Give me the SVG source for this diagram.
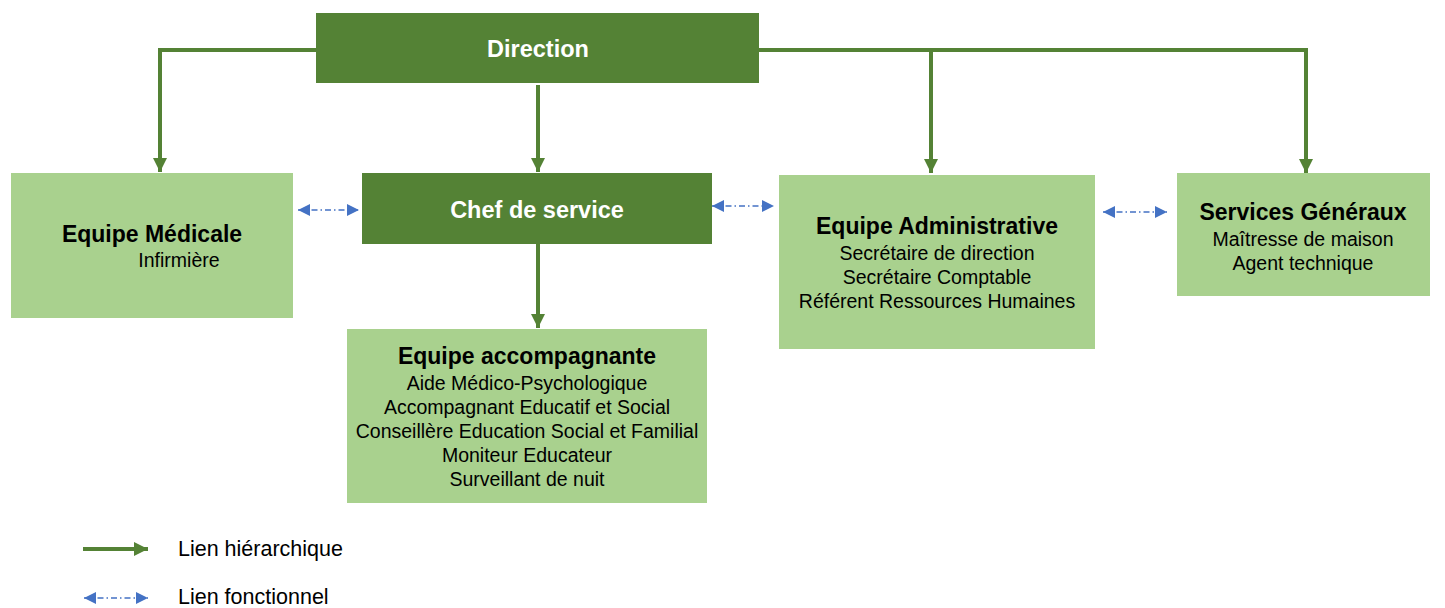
<svg xmlns="http://www.w3.org/2000/svg" width="1445" height="608" viewBox="0 0 1445 608">
<style>
.dark{fill:#548235}
.light{fill:#A9D18E}
.h{stroke:#548235;stroke-width:4;fill:none}
.f{stroke:#4472C4;stroke-width:1.5;fill:none;stroke-dasharray:6 3 1.5 3}
text{font-family:"Liberation Sans",Arial,sans-serif;text-anchor:middle}
.tw{fill:#fff;font-weight:bold;font-size:23.5px}
.tb{fill:#000;font-weight:bold;font-size:23px}
.tn{fill:#000;font-size:19.5px}
.lg{fill:#000;font-size:21.5px;text-anchor:start}
</style>
<defs>
<marker id="ag" viewBox="0 0 10 10" refX="10" refY="5" markerWidth="3.5" markerHeight="3.5" orient="auto" markerUnits="strokeWidth"><path d="M0,0 L10,5 L0,10 z" fill="#548235"/></marker>
<marker id="ab" viewBox="0 0 10 10" refX="10" refY="5" markerWidth="8" markerHeight="8" orient="auto-start-reverse" markerUnits="strokeWidth"><path d="M0,0 L10,5 L0,10 z" fill="#4472C4"/></marker>
</defs>
<g id="connectors">
<path class="h" d="M316,50 H160 V172" marker-end="url(#ag)"/>
<path class="h" d="M759,50 H1306 V173" marker-end="url(#ag)"/>
<path class="h" d="M931,50 V173" marker-end="url(#ag)"/>
<path class="h" d="M538,85 V172" marker-end="url(#ag)"/>
<path class="h" d="M538,244 V328" marker-end="url(#ag)"/>
<path class="f" d="M298,210 H359" marker-start="url(#ab)" marker-end="url(#ab)"/>
<path class="f" d="M712,206 H774" marker-start="url(#ab)" marker-end="url(#ab)"/>
<path class="f" d="M1103,212 H1167" marker-start="url(#ab)" marker-end="url(#ab)"/>
</g>
<g id="direction"><rect class="dark" x="316" y="13" width="443" height="70"/><text class="tw" x="538" y="57">Direction</text></g>
<g id="chef"><rect class="dark" x="362" y="173" width="350" height="71"/><text class="tw" x="537" y="218">Chef de service</text></g>
<g id="medicale"><rect class="light" x="11" y="173" width="282" height="145"/><text class="tb" x="152" y="242">Equipe Médicale</text><text class="tn" x="179" y="267">Infirmière</text></g>
<g id="accompagnante"><rect class="light" x="347" y="329" width="360" height="174"/><text class="tb" x="527" y="364">Equipe accompagnante</text><text class="tn" x="527" y="390">Aide Médico-Psychologique</text><text class="tn" x="527" y="414">Accompagnant Educatif et Social</text><text class="tn" x="527" y="438">Conseillère Education Social et Familial</text><text class="tn" x="527" y="462">Moniteur Educateur</text><text class="tn" x="527" y="486">Surveillant de nuit</text></g>
<g id="administrative"><rect class="light" x="779" y="175" width="316" height="174"/><text class="tb" x="937" y="234">Equipe Administrative</text><text class="tn" x="937" y="260">Secrétaire de direction</text><text class="tn" x="937" y="284">Secrétaire Comptable</text><text class="tn" x="937" y="308">Référent Ressources Humaines</text></g>
<g id="generaux"><rect class="light" x="1177" y="173" width="253" height="123"/><text class="tb" x="1303" y="220">Services Généraux</text><text class="tn" x="1303" y="246">Maîtresse de maison</text><text class="tn" x="1303" y="270">Agent technique</text></g>
<g id="legend">
<path class="h" d="M83,549 H148" marker-end="url(#ag)"/>
<path class="f" d="M84,598 H148" marker-start="url(#ab)" marker-end="url(#ab)"/>
<text class="lg" x="178" y="556">Lien hiérarchique</text>
<text class="lg" x="178" y="604">Lien fonctionnel</text>
</g>
</svg>
